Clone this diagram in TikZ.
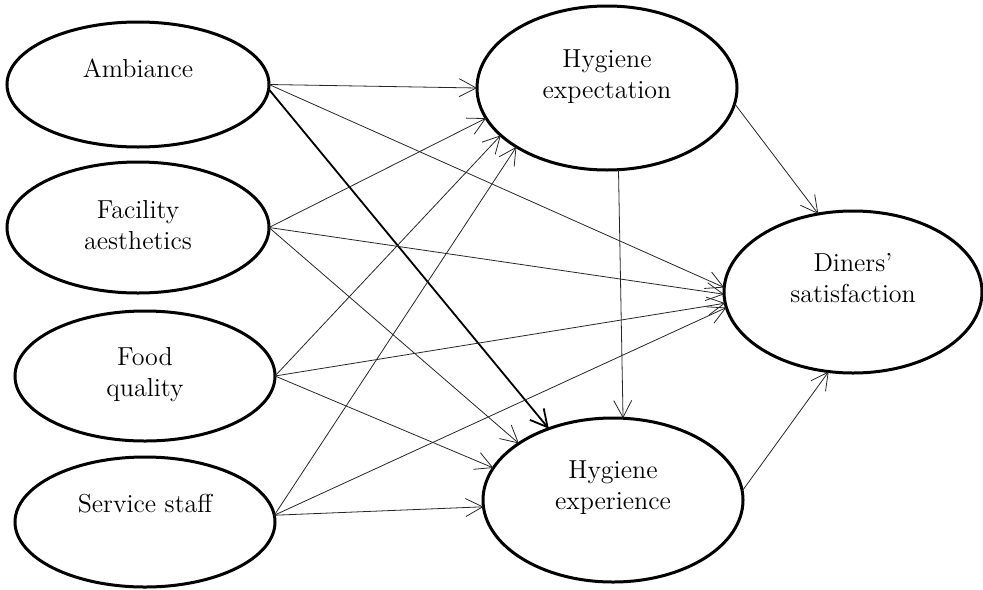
\documentclass[tikz,border=0pt]{standalone}
\usetikzlibrary{shapes.geometric,arrows.meta}
\begin{document}
\begin{tikzpicture}[x=0.5pt,y=-0.5pt,
  ell/.style={draw=black,line width=1.5pt,ellipse,inner sep=0pt,outer sep=0pt},
  lbl/.style={font=\fontsize{13}{15.5}\selectfont,align=center,inner sep=0pt},
  conn/.style={draw=black!85,line width=0.4pt,-{Straight Barb[length=8.5pt,width=9pt]}},
  thickconn/.style={draw=black,line width=0.9pt,-{Straight Barb[length=8.5pt,width=9pt]}}]
\useasboundingbox (0,0) rectangle (983,589);
% ellipses
\node[ell,minimum width=131pt,minimum height=62.5pt] (amb) at (138,84.5) {};
\node[ell,minimum width=131pt,minimum height=65.5pt] (fac) at (138,227.5) {};
\node[ell,minimum width=130pt,minimum height=65pt] (food) at (145,376) {};
\node[ell,minimum width=130pt,minimum height=65pt] (serv) at (145,522) {};
\node[ell,minimum width=130pt,minimum height=82pt] (hexp) at (607,88) {};
\node[ell,minimum width=129pt,minimum height=81pt] (din) at (853,292) {};
\node[ell,minimum width=130pt,minimum height=82pt] (hexr) at (613,500) {};
% labels
\node[lbl] (lamb) at (138,68) {Ambiance};
\node[lbl] (lfac) at (138,225) {Facility\\aesthetics};
\node[lbl] (lfood) at (145,375) {Food\\quality};
\node[lbl] (lserv) at (145,504) {Service staff};
\node[lbl] (lhexp) at (607,77) {Hygiene\\expectation};
\node[lbl] (ldin) at (853,278) {Diners'\\satisfaction};
\node[lbl] (lhexr) at (613,488) {Hygiene\\experience};
% connectors from Ambiance
\draw[conn] (amb.east) -- (hexp.west);
\draw[conn] (amb.east) -- (din.178);
\draw[thickconn] (amb.-2) -- (hexr.132.6);
% from Facility
\draw[conn] (fac.east) -- (hexp.194.5);
\draw[conn] (fac.east) -- (din.181.5);
\draw[conn] (fac.east) -- (hexr.149.9);
% from Food
\draw[conn] (food.east) -- (hexp.204.4);
\draw[conn] (food.east) -- (din.185);
\draw[conn] (food.east) -- (hexr.165.7);
% from Service
\draw[conn] (serv.3) -- (hexp.213.8);
\draw[conn] (serv.3) -- (din.187);
\draw[conn] (serv.3) -- (hexr.183.3);
% mediators
\draw[conn] (hexp.-7.6) -- (din.114.2);
\draw[conn] (hexp.278.3) -- (hexr.83.7);
\draw[conn] (hexr.4.4) -- (din.-107);
\end{tikzpicture}
\end{document}
